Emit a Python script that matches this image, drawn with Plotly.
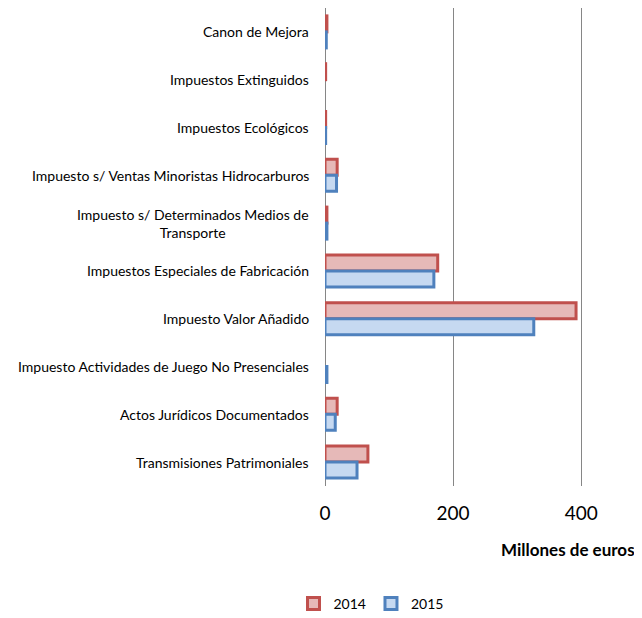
import plotly.graph_objects as go

categories = [
    "Canon de Mejora",
    "Impuestos Extinguidos",
    "Impuestos Ecológicos",
    "Impuesto s/ Ventas Minoristas Hidrocarburos",
    "Impuesto s/ Determinados Medios de<br>Transporte",
    "Impuestos Especiales de Fabricación",
    "Impuesto Valor Añadido",
    "Impuesto Actividades de Juego No Presenciales",
    "Actos Jurídicos Documentados",
    "Transmisiones Patrimoniales",
]
values_2014 = [3, 1, 1, 19, 3, 176, 392, None, 19, 67]
values_2015 = [2, None, 1, 18, 3, 170, 326, 3, 16, 50]
tick_vals = [0, 200, 400]
tick_text = ["0", "200", "400"]

FONT = "Lato, Carlito, Calibri, sans-serif"
OFF = 8  # default page body margin
W, H = 642 - OFF, 618 - OFF
ML, MR, MT, MB = 325 - OFF, 16, 8 - OFF, 132
PW, PH = W - ML - MR, H - MT - MB

fig = go.Figure()
fig.add_trace(go.Bar(
    name="2014", y=categories, x=values_2014, orientation="h",
    marker=dict(color="#E6B9B8", line=dict(color="#C0504D", width=3)),
))
fig.add_trace(go.Bar(
    name="2015", y=categories, x=values_2015, orientation="h",
    marker=dict(color="#C6D9F1", line=dict(color="#4F81BD", width=3)),
))

annotations = []
for c in categories:
    annotations.append(dict(
        x=0, y=c, xref="x", yref="y", text=c, showarrow=False,
        xanchor="right", yanchor="middle", align="center", xshift=-14,
        font=dict(family=FONT, size=14, color="#000000"),
    ))
annotations.append(dict(
    x=(637 - OFF - ML) / PW, y=(H - MB - (549 - OFF)) / PH, xref="paper", yref="paper",
    text="<b>Millones de euros</b>",
    showarrow=False, xanchor="right", yanchor="middle",
    font=dict(family=FONT, size=17, color="#000000"),
))

fig.update_layout(
    width=W, height=H,
    margin=dict(l=ML, r=MR, t=MT, b=MB, autoexpand=False),
    paper_bgcolor="white", plot_bgcolor="white",
    barmode="group", bargap=0.33, bargroupgap=0,
    font=dict(family=FONT, color="#000000"),
    showlegend=True,
    legend=dict(orientation="h", x=(371 - OFF - ML) / PW, xanchor="center",
                y=(H - MB - (604 - OFF)) / PH, yanchor="middle",
                font=dict(family=FONT, size=14), traceorder="normal"),
    xaxis=dict(range=[0, 470], tickvals=tick_vals, ticktext=tick_text,
               showgrid=True, gridcolor="#868686", gridwidth=1,
               zeroline=True, zerolinecolor="#868686", zerolinewidth=1,
               showline=False, ticks="", tickfont=dict(family=FONT, size=19),
               ticklabelstandoff=14),
    yaxis=dict(autorange="reversed", showticklabels=False, showgrid=False,
               showline=False, ticks="", categoryorder="array", categoryarray=categories),
    annotations=annotations,
)

fig.write_html("out.html")
